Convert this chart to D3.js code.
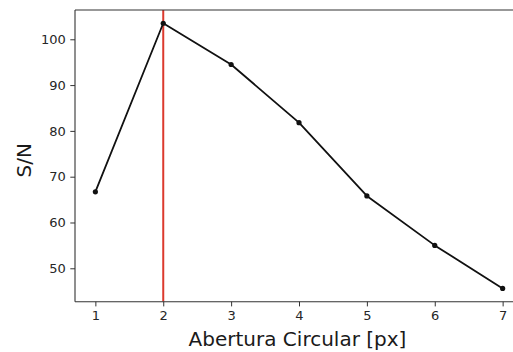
<!DOCTYPE html>
<html>
<head>
<meta charset="utf-8">
<script src="https://cdn.jsdelivr.net/npm/d3@7/dist/d3.min.js"></script>
<style>
  html, body { margin: 0; padding: 0; background: #fff; }
  svg { display: block; }
  text { font-family: "DejaVu Sans", sans-serif; }
</style>
</head>
<body>
<svg id="chart" width="513" height="352"></svg>
<script>
// Signal-to-noise ratio for each circular aperture radius
const apertures = [1, 2, 3, 4, 5, 6, 7];
const snr = [66.7, 103.5, 94.5, 81.8, 65.8, 55.0, 45.6];
const bestAperture = 2;
const xTicks = [1, 2, 3, 4, 5, 6, 7];
const yTicks = [50, 60, 70, 80, 90, 100];
const xTitle = "Abertura Circular [px]";
const yTitle = "S/N";

const W = 513, H = 352;
const plot = { left: 75, right: 523, top: 10, bottom: 301.7 };

const svg = d3.select("#chart");

// 5% padding around the data, like matplotlib's default margins
function padded(ext) {
  const p = (ext[1] - ext[0]) * 0.05;
  return [ext[0] - p, ext[1] + p];
}

const x = d3.scaleLinear().domain(padded(d3.extent(apertures))).range([plot.left, plot.right]);
const y = d3.scaleLinear().domain(padded(d3.extent(snr))).range([plot.bottom, plot.top]);

svg.append("defs").append("clipPath").attr("id", "plotclip")
  .append("rect")
  .attr("x", plot.left).attr("y", plot.top)
  .attr("width", plot.right - plot.left).attr("height", plot.bottom - plot.top);

const g = svg.append("g").attr("clip-path", "url(#plotclip)");

// vertical marker at the best aperture
g.append("line")
  .attr("x1", x(bestAperture)).attr("x2", x(bestAperture))
  .attr("y1", plot.top).attr("y2", plot.bottom)
  .attr("stroke", "#dc3a2e").attr("stroke-width", 2);

const pts = apertures.map((a, i) => [a, snr[i]]);

g.append("path")
  .datum(pts)
  .attr("fill", "none")
  .attr("stroke", "#111")
  .attr("stroke-width", 1.8)
  .attr("stroke-linejoin", "round")
  .attr("d", d3.line().x(d => x(d[0])).y(d => y(d[1])));

g.selectAll("circle.pt").data(pts).join("circle")
  .attr("class", "pt")
  .attr("cx", d => x(d[0])).attr("cy", d => y(d[1]))
  .attr("r", 2.6).attr("fill", "#111");

// axes
const xAxis = svg.append("g")
  .attr("transform", `translate(0,${plot.bottom})`)
  .call(d3.axisBottom(x).tickValues(xTicks).tickFormat(d3.format("d")).tickSize(4.7).tickPadding(4.5));
const yAxis = svg.append("g")
  .attr("transform", `translate(${plot.left},0)`)
  .call(d3.axisLeft(y).tickValues(yTicks).tickFormat(d3.format("d")).tickSize(4.7).tickPadding(4.5));

[xAxis, yAxis].forEach(ax => {
  ax.select(".domain").remove();
  ax.selectAll(".tick line").attr("stroke", "#333").attr("stroke-width", 1);
  ax.selectAll(".tick text")
    .attr("fill", "#262626")
    .style("font-size", "13px")
    .style("font-family", "'DejaVu Sans', sans-serif");
});

// frame
const spine = { stroke: "#333", "stroke-width": 1.1 };
function spineLine(x1, y1, x2, y2) {
  const l = svg.append("line").attr("x1", x1).attr("y1", y1).attr("x2", x2).attr("y2", y2);
  Object.entries(spine).forEach(([k, v]) => l.attr(k, v));
}
spineLine(plot.left, plot.top, plot.left, plot.bottom);
spineLine(plot.left, plot.bottom, plot.right, plot.bottom);
spineLine(plot.left, plot.top, plot.right, plot.top);
spineLine(plot.right, plot.top, plot.right, plot.bottom);

// axis titles
svg.append("text")
  .attr("x", 297.5).attr("y", 345.5)
  .attr("text-anchor", "middle")
  .attr("fill", "#1a1a1a")
  .style("font-size", "20px")
  .text(xTitle);

svg.append("text")
  .attr("transform", "translate(31,160.2) rotate(-90)")
  .attr("text-anchor", "middle")
  .attr("fill", "#1a1a1a")
  .style("font-size", "20px")
  .text(yTitle);
</script>
</body>
</html>
